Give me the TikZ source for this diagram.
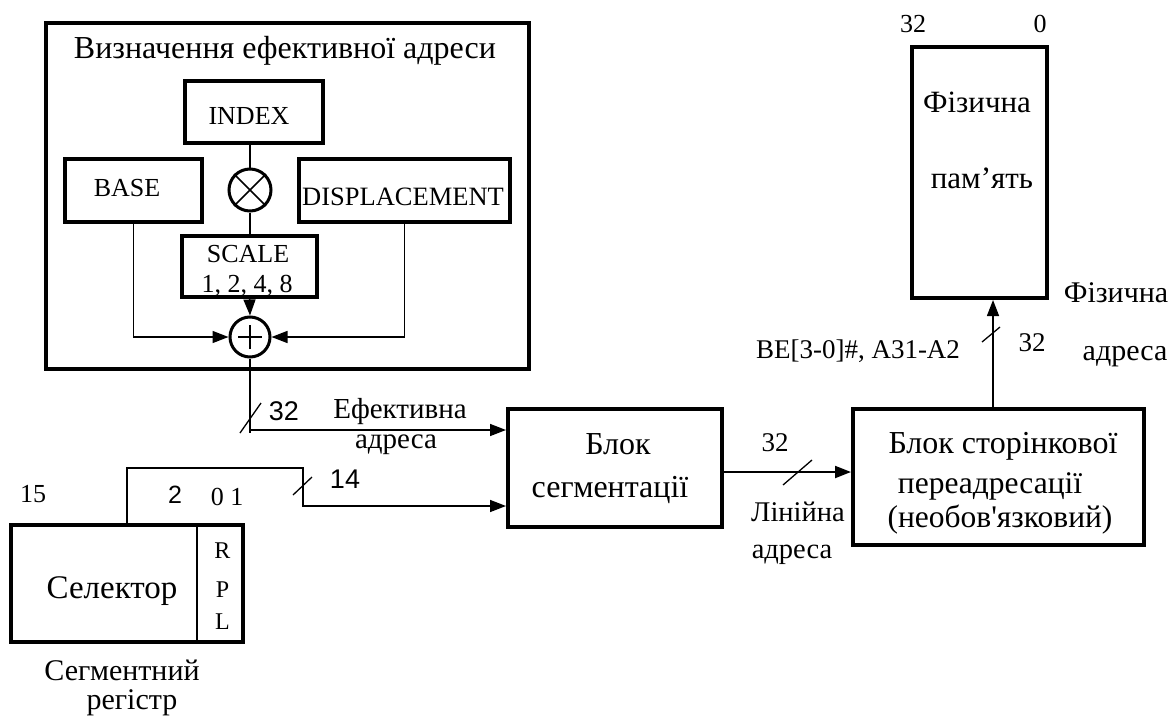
\documentclass[tikz,border=0pt]{standalone}
\usepackage{fontspec}
\setmainfont{Liberation Serif}
\newfontfamily\nomapserif{Liberation Serif}[Ligatures=TeXOff]
\newfontfamily\arialf{Liberation Sans}
\usetikzlibrary{arrows.meta}
\newcommand{\fsz}[1]{\fontsize{#1}{#1}\selectfont}
\begin{document}
\begin{tikzpicture}[x=1pt,y=-1pt,
  box/.style={draw, line width=3.5pt, inner sep=0pt},
  bigbox/.style={draw, line width=4pt, inner sep=0pt},
  op/.style={draw, circle, line width=3pt, inner sep=0pt},
  conn/.style={line width=1.5pt},
  arr/.style={line width=1.5pt, -{Triangle[length=16pt,width=12pt]}},
  slash/.style={line width=1.3pt},
  tx/.style={inner sep=0pt, anchor=base, font=\fsz{30}},
  ts/.style={inner sep=0pt, anchor=base, font=\fsz{26}},
  tn/.style={inner sep=0pt, anchor=base, font=\fsz{26}},
  sans/.style={inner sep=0pt, anchor=base, font=\arialf\fsz{27}}
]
\useasboundingbox (0,0) rectangle (1172,720);

% effective address block
\node[bigbox, minimum width=483, minimum height=346] (outer) at (287.5,196) {};
\node[tx, font=\fsz{32}] (title) at (285,58) {Визначення ефективної адреси};
\node[box, minimum width=138, minimum height=62] (index) at (254,112) {};
\node[ts] (tindex) at (249,124) {INDEX};
\node[box, minimum width=137, minimum height=63] (base) at (133.5,190.5) {};
\node[ts] (tbase) at (127,196) {BASE};
\node[box, minimum width=211, minimum height=63] (disp) at (404.5,190.5) {};
\node[ts, font=\fsz{26.5}] (tdisp) at (403,205) {DISPLACEMENT};
\node[box, minimum width=135, minimum height=61] (scale) at (249.5,266.5) {};
\node[ts] (tscale) at (248,262) {SCALE};
\node[ts] (tscale2) at (247,292) {1, 2, 4, 8};
\node[op, minimum size=42] (mul) at (250,190) {};
\draw[line width=1.5pt] (mul.north east) -- (mul.south west) (mul.north west) -- (mul.south east);
\node[op, minimum size=40] (add) at (250,337) {};
\draw[line width=1.5pt] ([xshift=-12pt]add.center) -- ([xshift=12pt]add.center)
  ([yshift=-12pt]add.center) -- ([yshift=12pt]add.center);

\draw[conn] (mul.north) -- (mul.north |- index.south);
\draw[conn] (mul.south) -- (mul.south |- scale.north);
\draw[arr] (scale.south) -- (add.north);
\draw[arr] (base.south) |- (add.west);
\draw[arr] (disp.south) |- (add.east);

% segmentation
\node[bigbox, minimum width=214, minimum height=118] (seg) at (615,468) {};
\node[tx, font=\fsz{32}] (tseg1) at (618,454) {Блок};
\node[tx, font=\fsz{32}] (tseg2) at (610,497) {сегментації};

\coordinate (effdown) at (251,433);
\draw[conn] (add.south) -- (add.south |- effdown);
\draw[arr] (251,430) -- (seg.west |- 0,430);
\draw[slash] (240,433) -- (261,403);
\node[sans] (n32a) at (284,420) {32};
\node[tx, font=\fsz{29}] (eff1) at (400,418) {Ефективна};
\node[tx, font=\fsz{29}] (eff2) at (396,448) {адреса};

% selector register
\node[bigbox, minimum width=232, minimum height=117] (sel) at (127,583.5) {};
\draw[line width=1.5pt] (197,525) -- (197,642);
\node[tx, font=\fsz{33}] (tsel) at (112,598) {Селектор};
\node[ts, font=\fsz{24}] (tR) at (222.5,558) {R};
\node[ts, font=\fsz{24}] (tP) at (222.5,597) {P};
\node[ts, font=\fsz{24}] (tL) at (222.5,629) {L};
\node[tx] (sreg1) at (122,680) {Сегментний};
\node[tx] (sreg2) at (132,709) {регістр};
\node[ts] (n15) at (33,502) {15};
\node[sans, font=\arialf\fsz{25}] (n2) at (175,503) {2};
\node[ts] (n01) at (227,505) {0 1};

\coordinate (c14) at (303,468);
\draw[arr] (sel.north) |- (c14) -- (303,506) -- (seg.west |- 0,506);
\draw[slash] (293,495) -- (312,477);
\node[sans] (n14) at (345,488) {14};

% paging
\node[bigbox, minimum width=291, minimum height=136] (paging) at (998.5,477) {};
\node[tx, font=\fsz{32}] (tp1) at (1003,453) {Блок сторінкової};
\node[tx, font=\fsz{31.5}] (tp2) at (990,493) {переадресації};
\node[tx, font=\nomapserif\fsz{31.5}] (tp3) at (1000,527) {(необов'язковий)};
\draw[arr, line width=2pt] (seg.east |- 0,472) -- (paging.west |- 0,472);
\draw[slash] (783,485) -- (812,460);
\node[tn, font=\fsz{27}] (n32b) at (775,451) {32};
\node[tx, font=\fsz{28.5}] (lin1) at (798,521) {Лінійна};
\node[tx, font=\fsz{28.5}] (lin2) at (792,558) {адреса};

% physical memory
\node[bigbox, minimum width=135, minimum height=251] (mem) at (979.5,172.5) {};
\node[tn] (m32) at (913,32) {32};
\node[tn] (m0) at (1040,32) {0};
\node[tx, font=\fsz{31}] (tm1) at (977,112) {Фізична};
\node[tx, font=\fsz{31}] (tm2) at (982,188) {пам’ять};
\draw[arr] (paging.north -| 993,0) -- (mem.south -| 993,0);
\draw[slash] (982,342) -- (1000,327);
\node[tn, font=\fsz{27}] (n32c) at (1032,351) {32};
\node[ts, font=\fsz{27}] (be) at (858,358) {BE[3-0]\#, A31-A2};
\node[tx] (ph1) at (1116,302) {Фізична};
\node[tx] (ph2) at (1125,360) {адреса};
\end{tikzpicture}
\end{document}
